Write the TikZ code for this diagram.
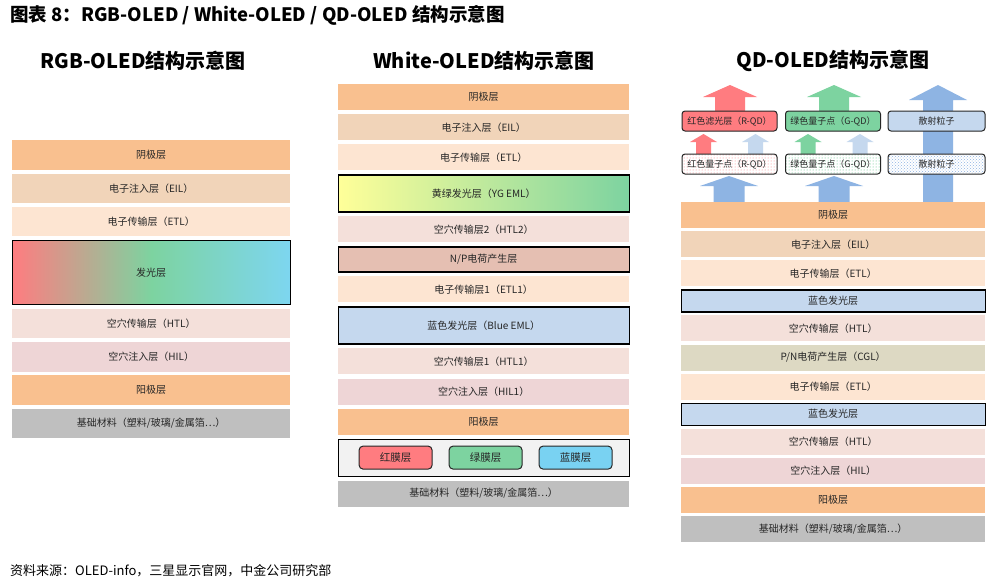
\documentclass[tikz,border=0pt]{standalone}
\usepackage{fontspec}
\setmainfont{Noto Sans CJK SC}
\usepackage{tikz}
\usepackage{xcolor}
\usetikzlibrary{positioning, patterns}
\definecolor{cathode}{HTML}{F9C08F}
\definecolor{eil}{HTML}{F1D4B9}
\definecolor{etl}{HTML}{FDE5D2}
\definecolor{htl}{HTML}{F4E0DA}
\definecolor{hil}{HTML}{EED5D6}
\definecolor{base}{HTML}{BFBFBF}
\definecolor{emred}{HTML}{FF7C80}
\definecolor{emgreen}{HTML}{7DD3A0}
\definecolor{emcyan}{HTML}{7DD6F0}
\definecolor{emyellow}{HTML}{FFFF99}
\definecolor{cgl}{HTML}{E5BFB2}
\definecolor{cglolive}{HTML}{DDD9C3}
\definecolor{blueeml}{HTML}{C5D8EE}
\definecolor{filtergray}{HTML}{F2F2F2}
\definecolor{bluefilm}{HTML}{79D2F2}
\definecolor{lightblue}{HTML}{8EB4E3}
\definecolor{dotgreen}{HTML}{4CC27A}
\definecolor{labeltext}{HTML}{262626}
\tikzstyle{layer} = [rectangle, minimum height=26pt, inner sep=0pt, text centered, text=labeltext, font=\fontsize{10}{11}\selectfont]
\tikzstyle{framed} = [draw=black, line width=1.2pt]
\tikzstyle{film} = [rectangle, rounded corners=4pt, draw=black!85, line width=1pt, minimum width=73pt, minimum height=23pt, text=labeltext, font=\fontsize{10.5}{11}\selectfont]
\tikzstyle{qdbox} = [rectangle, rounded corners=3pt, draw=black!85, line width=1pt, minimum width=95pt, minimum height=20pt, inner sep=0pt, text=labeltext, font=\fontsize{9}{10}\selectfont]
\tikzstyle{coltitle} = [font=\fontsize{20}{22}\selectfont\bfseries]
% light arrow: colour, x centre, shaft half width, head half width, tip y, head base y, foot y
\newcommand{\qdarrow}[7]{\fill[#1] (#2-#3,#7) -- (#2-#3,#6) -- (#2-#4,#6) -- (#2,#5) -- (#2+#4,#6) -- (#2+#3,#6) -- (#2+#3,#7) -- cycle;}

\begin{document}
\begin{tikzpicture}[x=1pt, y=-1pt]
    \path[use as bounding box, fill=white] (0,0) rectangle (1002,581);

    % titles
    \node (title) [anchor=west, inner sep=0pt, font=\fontsize{18.5}{20}\selectfont\bfseries] at (10,15) {图表 8：RGB-OLED / White-OLED / QD-OLED 结构示意图};
    \node (rgbtitle) [coltitle] at (143,61) {RGB-OLED结构示意图};
    \node (whitetitle) [coltitle] at (484,61) {White-OLED结构示意图};
    \node (qdtitle) [coltitle] at (833,61) {QD-OLED结构示意图};

    % RGB-OLED
    \begin{scope}[layer/.append style={minimum width=278pt, minimum height=29.5pt}]
    \node (r1) [layer, fill=cathode, anchor=north west] at (12,140) {阴极层};
    \node (r2) [layer, fill=eil, below=3.4pt of r1] {电子注入层（EIL）};
    \node (r3) [layer, fill=etl, below=3.4pt of r2] {电子传输层（ETL）};
    \node (r4) [layer, framed, minimum height=64pt, left color=emred, right color=emcyan, middle color=emgreen, below=3.4pt of r3] {发光层};
    \node (r5) [layer, fill=htl, below=3.4pt of r4] {空穴传输层（HTL）};
    \node (r6) [layer, fill=hil, below=3.4pt of r5] {空穴注入层（HIL）};
    \node (r7) [layer, fill=cathode, below=3.4pt of r6] {阳极层};
    \node (r8) [layer, fill=base, below=3.4pt of r7] {基础材料（塑料/玻璃/金属箔⋯）};
    \end{scope}

    % White-OLED
    \begin{scope}[layer/.append style={minimum width=291pt}]
    \node (w1) [layer, fill=cathode, anchor=north west] at (338,84) {阴极层};
    \node (w2) [layer, fill=eil, below=3.7pt of w1] {电子注入层（EIL）};
    \node (w3) [layer, fill=etl, below=3.7pt of w2] {电子传输层（ETL）};
    \node (w4) [layer, framed, minimum height=37pt, left color=emyellow, right color=emgreen, below=3.7pt of w3] {黄绿发光层（YG EML）};
    \node (w5) [layer, fill=htl, below=3.7pt of w4] {空穴传输层2（HTL2）};
    \node (w6) [layer, framed, minimum height=25pt, fill=cgl, below=3.7pt of w5] {N/P电荷产生层};
    \node (w7) [layer, fill=etl, below=3.7pt of w6] {电子传输层1（ETL1）};
    \node (w8) [layer, framed, minimum height=37pt, fill=blueeml, below=3.7pt of w7] {蓝色发光层（Blue EML）};
    \node (w9) [layer, fill=htl, below=3.7pt of w8] {空穴传输层1（HTL1）};
    \node (w10) [layer, fill=hil, below=3.7pt of w9] {空穴注入层（HIL1）};
    \node (w11) [layer, fill=cathode, below=3.7pt of w10] {阳极层};
    \node (w12) [layer, framed, minimum height=37pt, fill=filtergray, below=3.7pt of w11] {};
    \node (w13) [layer, fill=base, below=3.7pt of w12] {基础材料（塑料/玻璃/金属箔⋯）};
    \end{scope}
    \node (redfilm) [film, fill=emred, right=21pt of w12.west] {红膜层};
    \node (greenfilm) [film, fill=emgreen, right=16pt of redfilm] {绿膜层};
    \node (bluefilm) [film, fill=bluefilm, right=16pt of greenfilm] {蓝膜层};

    % QD-OLED light
    \qdarrow{lightblue}{938}{15}{29}{85}{100}{202}
    \qdarrow{emred}{730}{15}{27}{85}{97}{111}
    \qdarrow{emgreen}{834}{15}{27}{85}{97}{111}
    \qdarrow{emred}{703.5}{7.5}{13.5}{134}{142}{154}
    \qdarrow{blueeml}{755.5}{7.5}{13.5}{134}{142}{154}
    \qdarrow{emgreen}{808}{7.5}{13.5}{134}{142}{154}
    \qdarrow{blueeml}{860}{7.5}{13.5}{134}{142}{154}
    \qdarrow{lightblue}{729}{15.5}{29}{176}{186}{202}
    \qdarrow{lightblue}{834}{15.5}{29}{176}{186}{202}

    \node (rfilter) [qdbox, fill=emred] at (729.5,121) {红色滤光层（R-QD）};
    \node (gfilter) [qdbox, fill=emgreen] at (833,121) {绿色量子点（G-QD）};
    \node (scatter1) [qdbox, fill=blueeml, minimum width=97pt] at (936.5,121) {散射粒子};
    \node (rdots) [qdbox, preaction={fill=white}, pattern=dots, pattern color=emred] at (729.5,164) {红色量子点（R-QD）};
    \node (gdots) [qdbox, preaction={fill=white}, pattern=dots, pattern color=dotgreen] at (833,164) {绿色量子点（G-QD）};
    \node (scatter2) [qdbox, minimum width=97pt, preaction={fill=white}, pattern=crosshatch dots, pattern color=lightblue] at (936.5,164) {散射粒子};

    % QD-OLED
    \begin{scope}[layer/.append style={minimum width=304pt}]
    \node (q1) [layer, fill=cathode, anchor=north west] at (681,202) {阴极层};
    \node (q2) [layer, fill=eil, below=2.7pt of q1] {电子注入层（EIL）};
    \node (q3) [layer, fill=etl, below=2.7pt of q2] {电子传输层（ETL）};
    \node (q4) [layer, framed, minimum height=22pt, fill=blueeml, below=2.7pt of q3] {蓝色发光层};
    \node (q5) [layer, fill=htl, below=2.7pt of q4] {空穴传输层（HTL）};
    \node (q6) [layer, fill=cglolive, below=2.7pt of q5] {P/N电荷产生层（CGL）};
    \node (q7) [layer, fill=etl, below=2.7pt of q6] {电子传输层（ETL）};
    \node (q8) [layer, framed, minimum height=22pt, fill=blueeml, below=2.7pt of q7] {蓝色发光层};
    \node (q9) [layer, fill=htl, below=2.7pt of q8] {空穴传输层（HTL）};
    \node (q10) [layer, fill=hil, below=2.7pt of q9] {空穴注入层（HIL）};
    \node (q11) [layer, fill=cathode, below=2.7pt of q10] {阳极层};
    \node (q12) [layer, fill=base, below=2.7pt of q11] {基础材料（塑料/玻璃/金属箔⋯）};
    \end{scope}

    \node (source) [anchor=west, inner sep=0pt, font=\fontsize{13}{14}\selectfont] at (10,571) {资料来源：OLED-info，三星显示官网，中金公司研究部};
\end{tikzpicture}
\end{document}
